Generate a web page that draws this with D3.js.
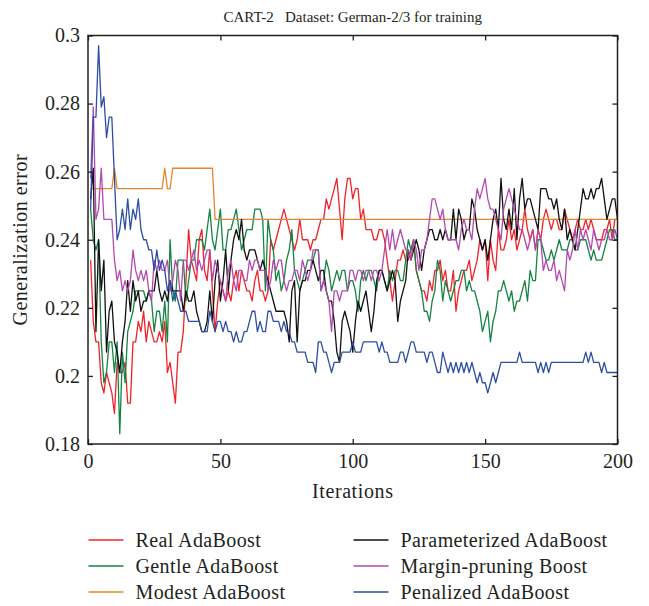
<!DOCTYPE html>
<html>
<head>
<meta charset="utf-8">
<script src="https://cdn.jsdelivr.net/npm/d3@7"></script>
<style>
  body { margin: 0; background: #fff; }
  text { font-family: "Liberation Serif", "DejaVu Serif", serif; fill: #231f20; }
</style>
</head>
<body>
<svg id="chart" width="649" height="606"></svg>
<script>
// Generalization error per boosting iteration (CART-2 base learner, German data)
const realAdaBoost = [
  .234,.216,.210,.210,.198,.195,.201,.198,.195,.189,
  .204,.201,.201,.204,.192,.192,.210,.210,.216,.213,
  .219,.210,.216,.213,.210,.210,.213,.210,.216,.201,
  .204,.198,.192,.207,.207,.213,.228,.243,.234,.231,
  .228,.240,.243,.231,.228,.237,.225,.213,.222,.228,
  .225,.222,.225,.222,.228,.231,.225,.231,.228,.225,
  .225,.222,.228,.231,.225,.225,.222,.225,.240,.237,
  .240,.243,.246,.249,.246,.243,.240,.237,.240,.246,
  .240,.240,.240,.237,.240,.240,.243,.246,.246,.252,
  .249,.252,.255,.258,.249,.240,.252,.258,.258,.252,
  .255,.255,.246,.249,.243,.243,.243,.240,.240,.243,
  .243,.240,.234,.228,.222,.228,.234,.234,.237,.234,
  .234,.237,.240,.231,.228,.225,.225,.222,.228,.225,
  .231,.231,.234,.228,.231,.225,.225,.231,.219,.225,
  .228,.231,.231,.234,.228,.231,.234,.240,.237,.240,
  .228,.240,.234,.231,.243,.237,.237,.240,.246,.240,
  .243,.237,.240,.243,.249,.243,.240,.243,.237,.243,
  .240,.246,.249,.246,.243,.246,.246,.243,.243,.249,
  .246,.243,.240,.243,.246,.243,.243,.246,.243,.246,
  .243,.240,.240,.240,.243,.243,.246,.240,.246,.246
];

const gentleAdaBoost = [
  .249,.240,.237,.240,.210,.198,.201,.210,.210,.201,
  .210,.183,.207,.198,.213,.216,.219,.225,.225,.225,
  .225,.222,.225,.222,.213,.219,.219,.213,.222,.210,
  .240,.225,.222,.234,.234,.234,.222,.228,.234,.234,
  .240,.240,.240,.237,.243,.249,.240,.237,.243,.249,
  .237,.237,.243,.243,.246,.249,.243,.237,.240,.243,
  .243,.243,.249,.249,.249,.246,.225,.246,.240,.237,
  .228,.231,.225,.228,.234,.237,.243,.231,.228,.225,
  .228,.231,.234,.234,.234,.237,.237,.225,.228,.234,
  .231,.225,.228,.231,.228,.231,.231,.225,.228,.228,
  .225,.219,.228,.231,.228,.231,.231,.228,.225,.231,
  .231,.228,.225,.231,.228,.231,.231,.228,.228,.234,
  .240,.237,.240,.231,.228,.225,.219,.219,.216,.222,
  .225,.234,.231,.222,.228,.225,.222,.225,.228,.228,
  .231,.231,.225,.228,.225,.225,.222,.219,.213,.216,
  .219,.210,.216,.219,.225,.225,.228,.225,.222,.225,
  .219,.222,.222,.225,.228,.222,.231,.228,.228,.240,
  .240,.237,.234,.234,.237,.234,.237,.240,.237,.237,
  .237,.240,.240,.237,.237,.240,.240,.240,.237,.234,
  .237,.234,.234,.234,.237,.240,.243,.243,.240,.240
];

const modestAdaBoost = [
  .255,.255,.255,.255,.255,.255,.255,.255,.255,.261,
  .255,.255,.255,.255,.255,.255,.255,.255,.255,.255,
  .255,.255,.255,.255,.255,.255,.255,.255,.261,.255,
  .255,.261,.261,.261,.261,.261,.261,.261,.261,.261,
  .261,.261,.261,.261,.261,.261,.261,.246,.246,.246,
  .246,.246,.246,.246,.246,.246,.246,.246,.246,.246,
  .246,.246,.246,.246,.246,.246,.246,.246,.246,.246,
  .246,.246,.246,.246,.246,.246,.246,.246,.246,.246,
  .246,.246,.246,.246,.246,.246,.246,.246,.246,.246,
  .246,.246,.246,.246,.246,.246,.246,.246,.246,.246,
  .246,.246,.246,.246,.246,.246,.246,.246,.246,.246,
  .246,.246,.246,.246,.246,.246,.246,.246,.246,.246,
  .246,.246,.246,.246,.246,.246,.246,.246,.246,.246,
  .246,.246,.246,.246,.246,.246,.246,.246,.246,.246,
  .246,.246,.246,.246,.246,.246,.246,.246,.246,.246,
  .246,.246,.246,.246,.246,.246,.246,.246,.246,.246,
  .246,.246,.246,.246,.246,.246,.246,.246,.246,.246,
  .246,.246,.246,.246,.246,.246,.246,.246,.246,.246,
  .246,.246,.246,.246,.246,.246,.246,.246,.246,.246,
  .246,.246,.246,.246,.246,.246,.246,.246,.246,.246
];

const parameterizedAdaBoost = [
  .252,.261,.213,.240,.225,.234,.207,.219,.222,.210,
  .207,.201,.210,.216,.228,.219,.228,.222,.225,.219,
  .222,.222,.225,.225,.225,.231,.225,.222,.225,.222,
  .228,.225,.225,.225,.225,.219,.225,.222,.222,.225,
  .219,.216,.213,.213,.216,.225,.216,.228,.234,.222,
  .228,.237,.225,.234,.240,.243,.240,.246,.237,.234,
  .237,.237,.237,.234,.231,.234,.231,.228,.225,.222,
  .219,.219,.219,.219,.216,.210,.225,.228,.210,.225,
  .228,.228,.231,.231,.234,.231,.228,.231,.231,.225,
  .222,.222,.216,.207,.204,.216,.219,.216,.213,.207,
  .216,.222,.219,.222,.225,.219,.213,.219,.228,.231,
  .231,.228,.225,.228,.231,.228,.216,.222,.225,.228,
  .237,.234,.237,.240,.237,.231,.237,.240,.243,.243,
  .240,.240,.243,.240,.243,.240,.240,.249,.240,.249,
  .246,.240,.243,.243,.252,.249,.243,.240,.237,.240,
  .234,.240,.246,.249,.243,.258,.246,.243,.249,.243,
  .255,.240,.252,.258,.249,.252,.252,.249,.246,.243,
  .255,.255,.255,.252,.252,.249,.252,.246,.243,.249,
  .240,.243,.240,.237,.243,.249,.255,.252,.252,.255,
  .252,.255,.255,.258,.252,.246,.249,.252,.252,.246
];

const marginPruningBoost = [
  .258,.279,.246,.249,.261,.246,.246,.246,.246,.234,
  .228,.231,.225,.228,.225,.228,.237,.231,.228,.231,
  .228,.231,.225,.222,.234,.231,.234,.231,.231,.234,
  .225,.228,.234,.231,.222,.234,.234,.231,.234,.237,
  .231,.234,.231,.234,.237,.237,.228,.234,.231,.228,
  .225,.222,.231,.234,.228,.225,.231,.231,.228,.228,
  .234,.231,.234,.234,.231,.231,.231,.225,.228,.234,
  .231,.234,.234,.228,.225,.228,.228,.231,.231,.228,
  .234,.231,.228,.231,.237,.237,.237,.225,.228,.225,
  .222,.213,.225,.225,.222,.225,.225,.225,.231,.231,
  .228,.231,.231,.228,.231,.231,.228,.231,.231,.228,
  .231,.237,.243,.237,.243,.237,.240,.243,.240,.237,
  .237,.234,.240,.237,.231,.237,.237,.240,.246,.252,
  .252,.249,.246,.249,.243,.240,.240,.240,.240,.237,
  .243,.246,.243,.243,.240,.249,.255,.252,.255,.258,
  .252,.249,.249,.246,.243,.240,.249,.252,.255,.252,
  .249,.246,.243,.243,.240,.237,.240,.243,.237,.243,
  .240,.231,.234,.231,.231,.234,.228,.231,.228,.225,
  .237,.234,.237,.243,.237,.243,.240,.243,.240,.237,
  .243,.240,.237,.240,.240,.243,.240,.240,.243,.240
];

const penalizedAdaBoost = [
  .249,.276,.276,.297,.279,.282,.270,.276,.276,.258,
  .240,.243,.249,.243,.252,.243,.249,.246,.252,.243,
  .240,.240,.237,.237,.231,.237,.231,.234,.231,.225,
  .228,.222,.225,.222,.219,.219,.219,.216,.216,.216,
  .216,.216,.213,.213,.213,.219,.216,.213,.216,.216,
  .213,.216,.213,.213,.210,.213,.210,.210,.213,.213,
  .216,.219,.219,.213,.216,.213,.213,.219,.219,.216,
  .216,.216,.213,.216,.213,.213,.210,.210,.207,.207,
  .207,.207,.204,.204,.204,.201,.210,.210,.207,.207,
  .204,.201,.204,.204,.204,.207,.207,.207,.207,.210,
  .207,.207,.207,.210,.210,.210,.210,.210,.210,.207,
  .210,.207,.207,.204,.204,.204,.204,.207,.207,.204,
  .207,.210,.210,.207,.207,.207,.207,.204,.207,.207,
  .204,.201,.201,.207,.204,.201,.204,.201,.204,.201,
  .204,.201,.204,.201,.204,.201,.198,.201,.198,.198,
  .195,.198,.201,.198,.201,.204,.204,.204,.204,.204,
  .204,.204,.207,.204,.204,.204,.204,.204,.204,.201,
  .204,.201,.204,.201,.204,.204,.204,.204,.204,.204,
  .204,.204,.204,.204,.204,.204,.204,.207,.204,.207,
  .204,.204,.204,.201,.204,.201,.201,.201,.201,.201
];

const seriesNames = [
  "Real AdaBoost", "Gentle AdaBoost", "Modest AdaBoost",
  "Parameterized AdaBoost", "Margin-pruning Boost", "Penalized AdaBoost"
];
const seriesValues = [
  realAdaBoost, gentleAdaBoost, modestAdaBoost,
  parameterizedAdaBoost, marginPruningBoost, penalizedAdaBoost
];
const seriesColors = ["#f0232b", "#148443", "#e3862c", "#111111", "#b449b0", "#2d4ea3"];

const xTickValues = [0, 50, 100, 150, 200];
const yTickValues = [0.18, 0.2, 0.22, 0.24, 0.26, 0.28, 0.3];
const yTickLabels = ["0.18", "0.2", "0.22", "0.24", "0.26", "0.28", "0.3"];

const titleText = "CART-2\u00a0\u00a0\u00a0Dataset: German-2/3 for training";
const xAxisTitle = "Iterations";
const yAxisTitle = "Generalization error";

const plot = { left: 88, right: 617.5, top: 35.5, bottom: 444 };

const svg = d3.select("#chart");

const x = d3.scaleLinear().domain([0, 200]).range([plot.left, plot.right]);
const y = d3.scaleLinear().domain([0.18, 0.3]).range([plot.bottom, plot.top]);

// series lines
const line = d3.line()
  .x((d, i) => x(i + 1))
  .y(d => y(d));

const linesG = svg.append("g");
seriesValues.forEach((vals, s) => {
  linesG.append("path")
    .datum(vals)
    .attr("fill", "none")
    .attr("stroke", seriesColors[s])
    .attr("stroke-width", 1.3)
    .attr("stroke-linejoin", "round")
    .attr("d", line);
});

// axes with inward ticks on all four sides
const tickLen = 5;
const fmtY = d => yTickLabels[yTickValues.indexOf(d)];

const gLeft = svg.append("g")
  .attr("transform", `translate(${plot.left},0)`)
  .call(d3.axisLeft(y).tickValues(yTickValues).tickFormat(fmtY).tickSize(-tickLen).tickPadding(8));
const gBottom = svg.append("g")
  .attr("transform", `translate(0,${plot.bottom})`)
  .call(d3.axisBottom(x).tickValues(xTickValues).tickFormat(d3.format("d")).tickSize(-tickLen).tickPadding(9));
const gTop = svg.append("g")
  .attr("transform", `translate(0,${plot.top})`)
  .call(d3.axisTop(x).tickValues(xTickValues).tickFormat("").tickSize(-tickLen));
const gRight = svg.append("g")
  .attr("transform", `translate(${plot.right},0)`)
  .call(d3.axisRight(y).tickValues(yTickValues).tickFormat("").tickSize(-tickLen));

[gLeft, gBottom, gTop, gRight].forEach(g => {
  g.select(".domain").remove();
  g.selectAll(".tick line").attr("stroke", "#231f20").attr("stroke-width", 1.3);
  g.selectAll(".tick text")
    .attr("fill", "#231f20")
    .style("font-family", '"Liberation Serif", "DejaVu Serif", serif')
    .style("font-size", "20px");
});
gBottom.selectAll(".tick text").attr("dy", "0.75em");

// frame
svg.append("rect")
  .attr("x", plot.left).attr("y", plot.top)
  .attr("width", plot.right - plot.left).attr("height", plot.bottom - plot.top)
  .attr("fill", "none").attr("stroke", "#231f20").attr("stroke-width", 1.5);

// titles
svg.append("text")
  .attr("x", (plot.left + plot.right) / 2).attr("y", 22)
  .attr("text-anchor", "middle").style("font-size", "15px")
  .text(titleText);

svg.append("text")
  .attr("x", (plot.left + plot.right) / 2).attr("y", 498)
  .attr("text-anchor", "middle").style("font-size", "20px")
  .style("letter-spacing", "0.6px")
  .text(xAxisTitle);

svg.append("text")
  .attr("transform", `translate(27,${(plot.top + plot.bottom) / 2}) rotate(-90)`)
  .attr("text-anchor", "middle").style("font-size", "20px")
  .style("letter-spacing", "0.5px")
  .text(yAxisTitle);

// legend: two columns of three
const legendCols = [88.5, 353.5];
const legendRows = [540, 566, 592];
const legend = svg.append("g");
seriesNames.forEach((name, i) => {
  const cx = legendCols[Math.floor(i / 3)];
  const cy = legendRows[i % 3];
  legend.append("line")
    .attr("x1", cx).attr("x2", cx + 35)
    .attr("y1", cy).attr("y2", cy)
    .attr("stroke", seriesColors[i]).attr("stroke-width", 1.3);
  legend.append("text")
    .attr("x", cx + 47).attr("y", cy + 6.5)
    .style("font-size", "20px")
    .style("letter-spacing", "0.4px")
    .text(name);
});
</script>
</body>
</html>
